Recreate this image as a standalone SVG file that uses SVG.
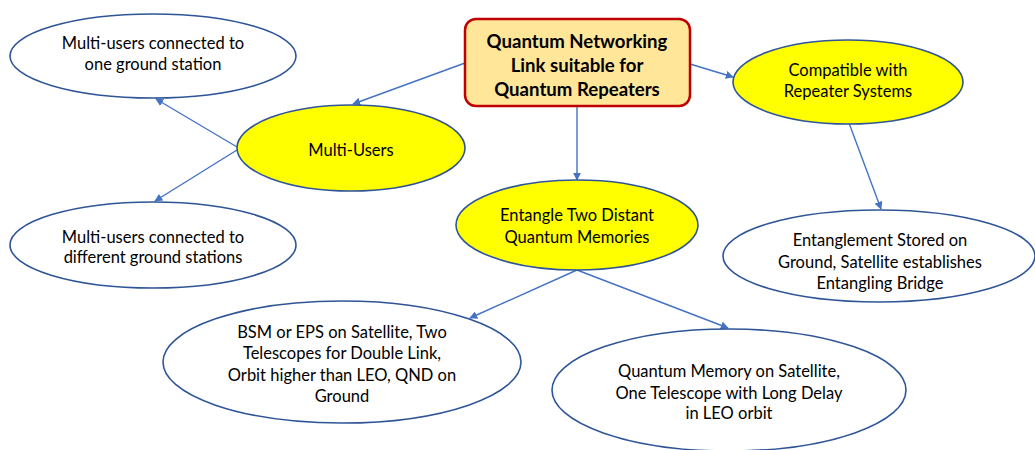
<svg xmlns="http://www.w3.org/2000/svg" width="1035" height="450" viewBox="0 0 1035 450">
  <style>
    .bg { fill: #ffffff; }
    .oval { fill: #ffffff; stroke: #2F5597; stroke-width: 1.6; }
    .oval.hl { fill: #FFFF00; }
    .root { fill: #FFE699; stroke: #C00000; stroke-width: 2.5; }
    text { font-family: Lato, "Open Sans", sans-serif; font-size: 16.5px; fill: #000000; text-anchor: middle; }
    .title { font-weight: bold; font-size: 18.6px; }
    .edge { fill: none; stroke: #4472C4; stroke-width: 1.4; marker-end: url(#arrow); }
  </style>
  <defs>
    <marker id="arrow" viewBox="0 0 10 10" refX="9" refY="5" markerWidth="8" markerHeight="8" markerUnits="userSpaceOnUse" orient="auto">
      <path d="M0,0 L10,5 L0,10 z" fill="#4472C4"/>
    </marker>
  </defs>

  <rect class="bg" x="0" y="0" width="1035" height="450"/>

  <!-- connectors -->
  <g id="connectors">
    <line class="edge" x1="465" y1="63" x2="353" y2="104"/>
    <line class="edge" x1="237" y1="147" x2="156" y2="99"/>
    <line class="edge" x1="237" y1="150" x2="155" y2="201"/>
    <line class="edge" x1="690" y1="64" x2="733" y2="77"/>
    <line class="edge" x1="849" y1="123" x2="881" y2="209"/>
    <line class="edge" x1="577" y1="107" x2="577" y2="180"/>
    <line class="edge" x1="577" y1="270" x2="470" y2="318"/>
    <line class="edge" x1="577" y1="270" x2="728" y2="328"/>
  </g>

  <!-- root topic -->
  <g id="root">
    <rect class="root" x="465" y="19" width="225" height="87" rx="11" ry="11"/>
    <text class="title" x="577" y="48">Quantum Networking</text>
    <text class="title" x="577" y="72">Link suitable for</text>
    <text class="title" x="577" y="96">Quantum Repeaters</text>
  </g>

  <g id="multi-users">
    <ellipse class="oval hl" cx="351" cy="148" rx="114" ry="43"/>
    <text x="351" y="156">Multi-Users</text>
  </g>

  <g id="one-ground-station">
    <ellipse class="oval" cx="153" cy="56" rx="143" ry="42"/>
    <text x="153" y="49">Multi-users connected to</text>
    <text x="153" y="70">one ground station</text>
  </g>

  <g id="different-ground-stations">
    <ellipse class="oval" cx="153" cy="245" rx="143" ry="43"/>
    <text x="153" y="243">Multi-users connected to</text>
    <text x="153" y="263">different ground stations</text>
  </g>

  <g id="compatible">
    <ellipse class="oval hl" cx="848" cy="82" rx="115" ry="42"/>
    <text x="848" y="76">Compatible with</text>
    <text x="848" y="97">Repeater Systems</text>
  </g>

  <g id="entanglement-stored">
    <ellipse class="oval" cx="879" cy="256" rx="156" ry="46"/>
    <text x="880" y="246">Entanglement Stored on</text>
    <text x="880" y="268">Ground, Satellite establishes</text>
    <text x="880" y="289">Entangling Bridge</text>
  </g>

  <g id="entangle-memories">
    <ellipse class="oval hl" cx="577" cy="225" rx="121" ry="45"/>
    <text x="577" y="221">Entangle Two Distant</text>
    <text x="577" y="243">Quantum Memories</text>
  </g>

  <g id="bsm-eps">
    <ellipse class="oval" cx="342" cy="362" rx="179" ry="61"/>
    <text x="342" y="338">BSM or EPS on Satellite, Two</text>
    <text x="342" y="359">Telescopes for Double Link,</text>
    <text x="342" y="381">Orbit higher than LEO, QND on</text>
    <text x="342" y="402">Ground</text>
  </g>

  <g id="quantum-memory-satellite">
    <ellipse class="oval" cx="729" cy="390" rx="177" ry="61"/>
    <text x="729" y="377">Quantum Memory on Satellite,</text>
    <text x="729" y="399">One Telescope with Long Delay</text>
    <text x="729" y="419">in LEO orbit</text>
  </g>
</svg>
